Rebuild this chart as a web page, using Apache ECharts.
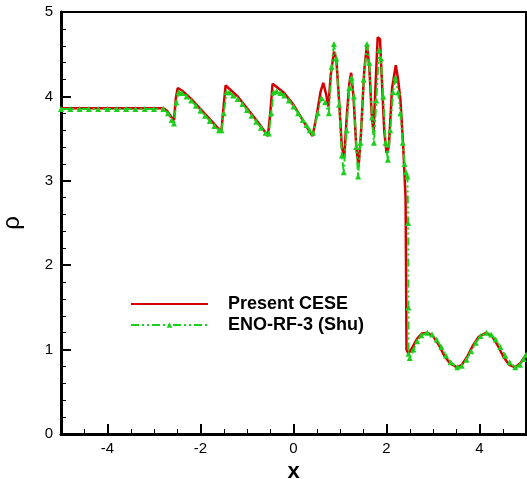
<!DOCTYPE html>
<html>
<head>
<meta charset="utf-8">
<script src="https://cdn.jsdelivr.net/npm/echarts@6/dist/echarts.min.js"></script>
<style>html,body{margin:0;padding:0;background:#fff}#c{width:527px;height:479px}</style>
</head>
<body>
<div id="c"></div>
<script>
var seriesNames = ['Present CESE', 'ENO-RF-3 (Shu)'];
var xMajorTicks = [-4, -2, 0, 2, 4];
var xMinorTicks = [-4.5, -3.5, -3, -2.5, -1.5, -1, -0.5, 0.5, 1, 1.5, 2.5, 3, 3.5, 4.5];

var redX = [-5, -4, -3, -2.80, -2.72, -2.62, -2.57, -2.53, -2.49, -2.40, -2.2, -2.0, -1.8, -1.6, -1.55, -1.50, -1.46, -1.40, -1.2, -1.0, -0.8, -0.6, -0.55, -0.50, -0.45, -0.38, -0.2, 0.0, 0.2, 0.35, 0.41, 0.50, 0.58, 0.64, 0.70, 0.75, 0.80, 0.87, 0.92, 0.98, 1.04, 1.09, 1.15, 1.20, 1.24, 1.29, 1.35, 1.40, 1.45, 1.52, 1.58, 1.63, 1.68, 1.72, 1.77, 1.81, 1.86, 1.90, 1.95, 2.00, 2.05, 2.12, 2.20, 2.25, 2.30, 2.36, 2.41, 2.42, 2.43, 2.47, 2.56, 2.66, 2.76, 2.88, 3.00, 3.12, 3.24, 3.36, 3.52, 3.62, 3.74, 3.86, 3.98, 4.15, 4.28, 4.40, 4.52, 4.64, 4.77, 4.88, 5.00];
var redY = [3.86, 3.86, 3.86, 3.86, 3.83, 3.75, 3.72, 3.98, 4.10, 4.07, 3.97, 3.85, 3.73, 3.61, 3.59, 3.90, 4.13, 4.10, 4.00, 3.86, 3.72, 3.57, 3.53, 3.80, 4.15, 4.12, 4.04, 3.90, 3.72, 3.58, 3.53, 3.78, 4.05, 4.16, 4.03, 3.88, 4.25, 4.53, 4.45, 3.95, 3.40, 3.28, 3.80, 4.15, 4.28, 4.00, 3.40, 3.17, 3.55, 4.30, 4.62, 4.35, 3.80, 3.57, 4.20, 4.70, 4.68, 4.20, 3.60, 3.33, 3.40, 4.10, 4.37, 4.20, 3.96, 3.40, 2.80, 2.00, 1.00, 0.95, 1.03, 1.13, 1.19, 1.20, 1.16, 1.06, 0.93, 0.84, 0.79, 0.82, 0.92, 1.05, 1.15, 1.20, 1.15, 1.04, 0.91, 0.82, 0.79, 0.84, 0.94];

var greenX = [-5, -4.8, -4.6, -4.4, -4.2, -4.0, -3.8, -3.6, -3.4, -3.2, -3.0, -2.80, -2.70, -2.62, -2.57, -2.52, -2.47, -2.40, -2.3, -2.2, -2.1, -2.0, -1.9, -1.8, -1.7, -1.6, -1.55, -1.50, -1.44, -1.38, -1.3, -1.2, -1.1, -1.0, -0.9, -0.8, -0.7, -0.6, -0.53, -0.48, -0.43, -0.36, -0.28, -0.2, -0.1, 0.0, 0.1, 0.2, 0.28, 0.35, 0.42, 0.52, 0.60, 0.68, 0.76, 0.82, 0.87, 0.92, 0.98, 1.04, 1.08, 1.14, 1.20, 1.25, 1.30, 1.35, 1.39, 1.44, 1.51, 1.58, 1.63, 1.69, 1.73, 1.78, 1.84, 1.88, 1.93, 1.98, 2.03, 2.08, 2.14, 2.19, 2.25, 2.30, 2.35, 2.39, 2.42, 2.45, 2.465, 2.47, 2.475, 2.50, 2.58, 2.66, 2.75, 2.88, 2.98, 3.08, 3.18, 3.28, 3.38, 3.52, 3.62, 3.72, 3.82, 3.92, 4.02, 4.15, 4.25, 4.35, 4.45, 4.55, 4.65, 4.77, 4.87, 4.95, 5.00];
var greenY = [3.85, 3.85, 3.85, 3.85, 3.85, 3.85, 3.85, 3.85, 3.85, 3.85, 3.85, 3.85, 3.80, 3.72, 3.68, 3.93, 4.05, 4.04, 4.00, 3.95, 3.89, 3.83, 3.77, 3.71, 3.65, 3.60, 3.60, 3.80, 4.05, 4.05, 4.01, 3.97, 3.91, 3.84, 3.77, 3.70, 3.63, 3.57, 3.56, 3.80, 4.05, 4.06, 4.04, 4.01, 3.95, 3.88, 3.80, 3.72, 3.66, 3.60, 3.57, 3.80, 3.98, 3.93, 3.80, 4.35, 4.62, 4.45, 3.90, 3.30, 3.10, 3.60, 4.10, 4.22, 4.00, 3.40, 3.05, 3.45, 4.20, 4.62, 4.40, 3.75, 3.45, 3.95, 4.55, 4.45, 4.00, 3.45, 3.25, 3.60, 4.05, 4.22, 4.05, 3.80, 3.45, 3.20, 3.10, 3.05, 2.50, 1.50, 0.95, 0.90, 1.00, 1.10, 1.17, 1.20, 1.18, 1.12, 1.03, 0.93, 0.85, 0.79, 0.81, 0.88, 0.98, 1.08, 1.16, 1.20, 1.18, 1.12, 1.03, 0.93, 0.85, 0.79, 0.82, 0.89, 0.94];

function pairs(xs, ys) { return xs.map(function (x, i) { return [x, ys[i]]; }); }

var FONT = '"Liberation Sans", Arial, Helvetica, sans-serif';
var chart = echarts.init(document.getElementById('c'), null, { renderer: 'canvas' });
chart.setOption({
  animation: false,
  backgroundColor: '#ffffff',
  grid: { left: 61, right: 1, top: 12, bottom: 45, show: true, borderColor: '#000', borderWidth: 2, containLabel: false, outerBoundsMode: 'none' },
  legend: {
    orient: 'vertical', left: 125, top: 290, itemWidth: 77, itemHeight: 7, itemGap: 3,
    textStyle: { fontFamily: FONT, fontSize: 18, fontWeight: 'bold', color: '#000', padding: [0, 0, 0, 15], lineHeight: 14 },
    data: [
      { name: seriesNames[0], itemStyle: { opacity: 0 } },
      { name: seriesNames[1] }
    ]
  },
  xAxis: [{
    type: 'value', min: -5, max: 5, position: 'bottom',
    name: 'x', nameLocation: 'middle', nameGap: 20,
    nameTextStyle: { fontFamily: FONT, fontSize: 22, fontWeight: 'bold', color: '#000' },
    axisLine: { show: true, onZero: false, lineStyle: { color: '#000', width: 3 } },
    axisTick: { show: true, inside: true, length: 10, lineStyle: { color: '#000', width: 2 }, customValues: xMajorTicks },
    axisLabel: { show: true, fontFamily: FONT, fontSize: 15, color: '#000', margin: 7, customValues: xMajorTicks },
    splitLine: { show: false }
  }, {
    type: 'value', min: -5, max: 5, position: 'bottom',
    axisLine: { show: false, onZero: false },
    axisTick: { show: true, inside: true, length: 5, lineStyle: { color: '#000', width: 1 }, customValues: xMinorTicks },
    axisLabel: { show: false },
    splitLine: { show: false }
  }],
  yAxis: {
    type: 'value', min: 0, max: 5, interval: 1,
    name: 'ρ', nameLocation: 'middle', nameGap: 37,
    nameTextStyle: { fontFamily: FONT, fontSize: 24, color: '#000' },
    axisLine: { show: true, onZero: false, lineStyle: { color: '#000', width: 3 } },
    axisTick: { show: true, inside: true, length: 10, lineStyle: { color: '#000', width: 2 } },
    minorTick: { show: true, splitNumber: 5, length: 5, lineStyle: { color: '#000', width: 1 } },
    axisLabel: { fontFamily: FONT, fontSize: 15, color: '#000', margin: 8 },
    splitLine: { show: false }
  },
  series: [{
    name: seriesNames[0], type: 'line', data: pairs(redX, redY),
    showSymbol: false, symbol: 'none',
    lineStyle: { color: '#d40000', width: 2.5 },
    itemStyle: { color: '#d40000' }
  }, {
    name: seriesNames[1], type: 'line', data: pairs(greenX, greenY),
    symbol: 'triangle', symbolSize: 6, showSymbol: true, showAllSymbol: true,
    lineStyle: { color: '#1ccf1c', width: 2, type: [8, 3, 2, 3, 2, 3] },
    itemStyle: { color: '#1ccf1c' }
  }]
});
</script>
</body>
</html>
